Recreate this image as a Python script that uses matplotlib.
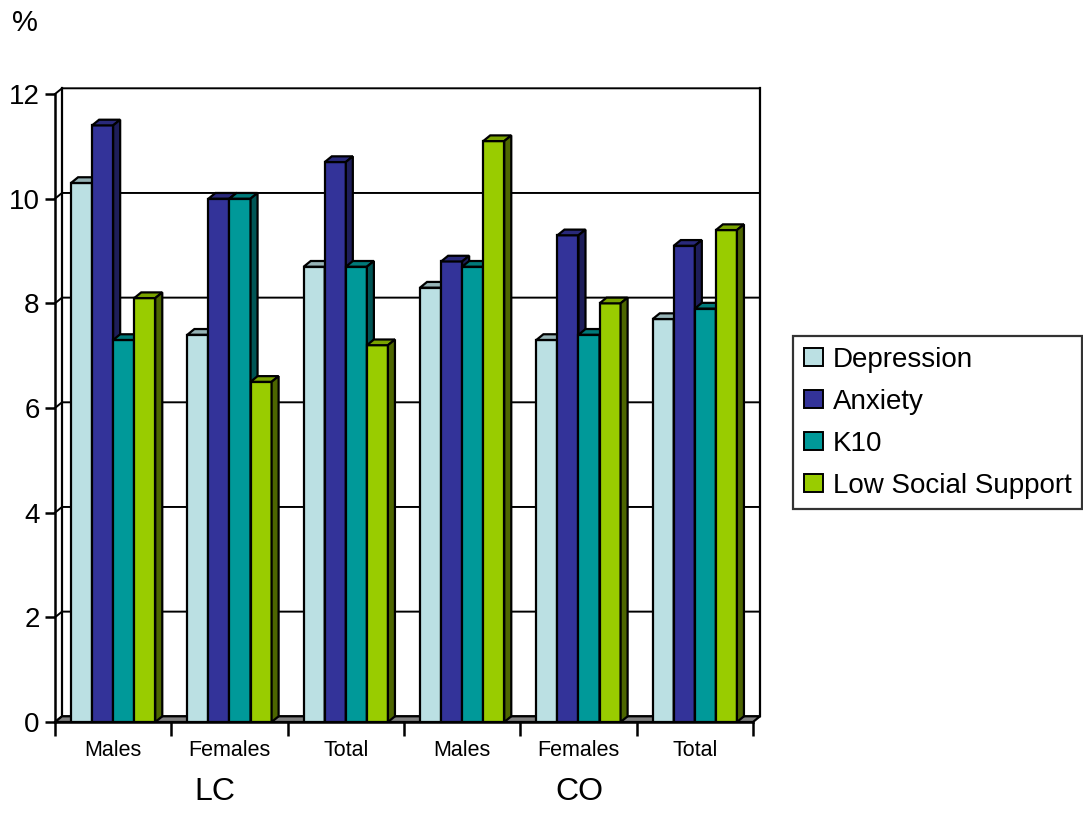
import matplotlib
matplotlib.use("Agg")
import matplotlib.pyplot as plt
from matplotlib.patches import Polygon, Patch
import numpy as np

plt.rcParams['font.family'] = ['Liberation Sans', 'DejaVu Sans']

categories = ["Males", "Females", "Total", "Males", "Females", "Total"]
groups = ["LC", "CO"]
series = ["Depression", "Anxiety", "K10", "Low Social Support"]
depression = [10.3, 7.4, 8.7, 8.3, 7.3, 7.7]
anxiety = [11.4, 10.0, 10.7, 8.8, 9.3, 9.1]
k10 = [7.3, 10.0, 8.7, 8.7, 7.4, 7.9]
low_social_support = [8.1, 6.5, 7.2, 11.1, 8.0, 9.4]
y_ticks = [0, 2, 4, 6, 8, 10, 12]

front_colors = ["#BBE0E3", "#333399", "#009999", "#99CC00"]
top_colors = ["#96B3B6", "#29297A", "#007A7A", "#7AA300"]
side_colors = ["#7C9598", "#1E1E5A", "#005555", "#4D6600"]

W, H = 1083, 815
fig = plt.figure(figsize=(W / 100, H / 100), dpi=100)
ax = fig.add_axes([55 / W, (H - 722) / H, 698 / W, 628 / H])

n = len(categories)
ax.set_xlim(0, n)
ax.set_ylim(0, 12)

# depth of the 3-D effect in data units
dx = 7 / (698 / n)
dy = 5.7 / (628 / 12)
k = dict(clip_on=False)
elw = 1.6

# back wall, side walls and floor
ax.add_patch(Polygon([(0, 0), (dx, dy), (n + dx, dy), (n, 0)],
                     closed=True, facecolor="#808080", edgecolor="black",
                     lw=elw, zorder=1, **k))
for v in y_ticks:
    ax.plot([0, dx, n + dx], [v, v + dy, v + dy], color="black", lw=1.4,
            zorder=0.5, **k)
ax.plot([dx, dx], [dy, 12 + dy], color="black", lw=1.6, zorder=0.5, **k)
ax.plot([n + dx, n + dx], [dy, 12 + dy], color="black", lw=1.6,
        zorder=0.5, **k)

values = [depression, anxiety, k10, low_social_support]
bw = 0.181
x0 = np.arange(n) + 0.5 - 2 * bw

for j, vals in enumerate(values):
    xs = x0 + j * bw
    bars = ax.bar(xs, vals, width=bw, align="edge", color=front_colors[j],
                  edgecolor="black", linewidth=elw, zorder=3 + j)
    for b in bars:
        xl = b.get_x()
        xr = xl + b.get_width()
        h = b.get_height()
        ax.add_patch(Polygon([(xl, h), (xl + dx, h + dy), (xr + dx, h + dy),
                              (xr, h)], closed=True, facecolor=top_colors[j],
                             edgecolor="black", lw=elw, zorder=3 + j, **k))
        ax.add_patch(Polygon([(xr, 0), (xr, h), (xr + dx, h + dy),
                              (xr + dx, dy)], closed=True,
                             facecolor=side_colors[j], edgecolor="black",
                             lw=elw, zorder=3 + j, **k))

# axes frame: only the front left axis and floor edge
for s in ["top", "right"]:
    ax.spines[s].set_visible(False)
for s in ["left", "bottom"]:
    ax.spines[s].set_linewidth(1.8)
    ax.spines[s].set_zorder(10)
ax.set_facecolor("none")

ax.set_yticks(y_ticks)
ax.set_yticklabels([str(v) for v in y_ticks], fontsize=20)
ax.tick_params(axis="y", direction="out", length=7, width=1.8, pad=4)

ax.set_xticks(np.arange(n + 1))
ax.set_xticklabels([""] * (n + 1))
ax.tick_params(axis="x", which="major", direction="out", length=10,
               width=1.8)
ax.set_xticks(np.arange(n) + 0.5, minor=True)
ax.set_xticklabels(categories, minor=True, fontsize=15.5)
ax.tick_params(axis="x", which="minor", length=0, pad=13)

ax.text(1.375, -0.111, groups[0], transform=ax.get_xaxis_transform(),
        ha="center", va="center", fontsize=23)
ax.text(4.51, -0.111, groups[1], transform=ax.get_xaxis_transform(),
        ha="center", va="center", fontsize=23)

fig.text(12 / W, 1 - 23 / H, "%", fontsize=21, ha="left", va="center")

handles = [Patch(facecolor=c, edgecolor="black", linewidth=1.4)
           for c in front_colors]
leg = fig.legend(handles, series, loc="upper left",
                 bbox_to_anchor=(793 / W, 1 - 336 / H), fontsize=20,
                 frameon=True, fancybox=False, handlelength=0.7,
                 handleheight=0.6, handletextpad=0.35, labelspacing=0.58,
                 borderpad=0.38, borderaxespad=0)
leg.get_frame().set_edgecolor("black")
leg.get_frame().set_linewidth(1.6)

fig.savefig("out.png", dpi=100)
